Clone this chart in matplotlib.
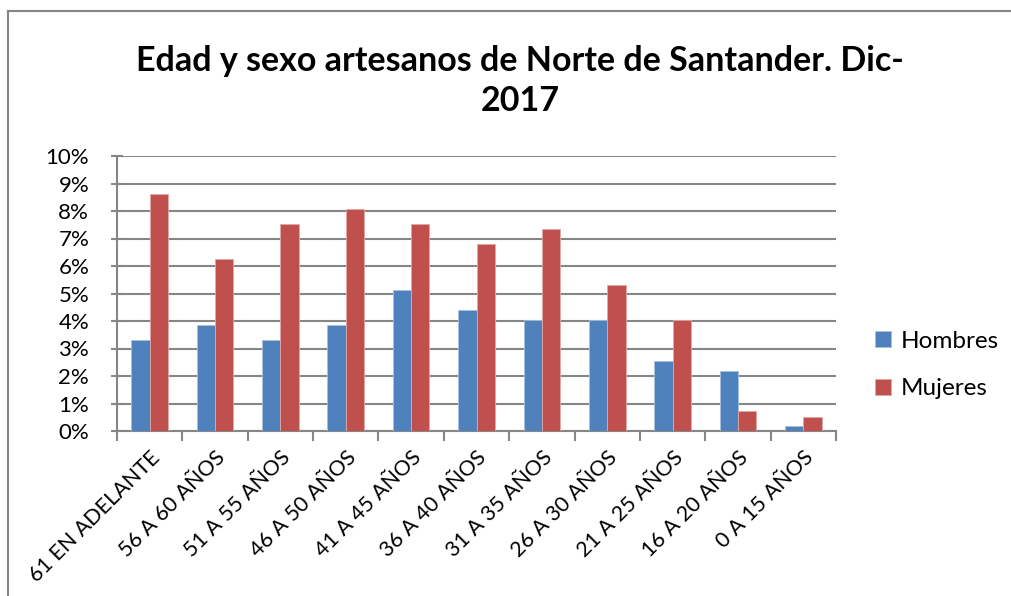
import matplotlib.pyplot as plt
import numpy as np

# data
categorias = ['61 EN ADELANTE', '56 A 60 AÑOS', '51 A 55 AÑOS', '46 A 50 AÑOS',
              '41 A 45 AÑOS', '36 A 40 AÑOS', '31 A 35 AÑOS', '26 A 30 AÑOS',
              '21 A 25 AÑOS', '16 A 20 AÑOS', '0 A 15 AÑOS']
hombres = [3.30, 3.85, 3.30, 3.85, 5.14, 4.39, 4.02, 4.02, 2.55, 2.18, 0.17]
mujeres = [8.63, 6.24, 7.53, 8.08, 7.53, 6.79, 7.35, 5.32, 4.02, 0.72, 0.52]
yticks = list(range(0, 11))

plt.rcParams['font.family'] = ['Lato', 'DejaVu Sans']

azul = '#4F81BD'
rojo = '#C0504D'
gris = '#868686'

fig = plt.figure(figsize=(10.11, 5.96), dpi=100)
ax = fig.add_axes([117/1011, 1-431/596, 719/1011, 275/596])

x = np.arange(len(categorias))
w = 0.28
ax.bar(x - w/2, hombres, w, color=azul, edgecolor='#A7C0DE', linewidth=0.6, label='Hombres', zorder=3)
ax.bar(x + w/2, mujeres, w, color=rojo, edgecolor='#E0A8A6', linewidth=0.6, label='Mujeres', zorder=3)

ax.set_xlim(-0.5, len(categorias) - 0.5)
ax.set_ylim(0, 10)
ax.set_yticks(yticks)
ax.set_yticklabels([f'{t}%' for t in yticks], fontsize=16)
ax.yaxis.grid(True, color=gris, linewidth=1.5, zorder=0)

# ticks between categories
ax.set_xticks(np.arange(-0.5, len(categorias)), minor=False)
ax.set_xticklabels([])
ax.tick_params(axis='x', length=7, width=1.5, color=gris, direction='out')
ax.tick_params(axis='y', length=8, width=1.5, color=gris, direction='inout', pad=16)
ax.set_xticks(x, minor=True)
ax.set_xticklabels(categorias, minor=True, rotation=45, ha='right',
                   rotation_mode='anchor', fontsize=15.5)
ax.tick_params(axis='x', which='minor', length=0, pad=12)

for s in ['top', 'right']:
    ax.spines[s].set_visible(False)
ax.spines['left'].set_color(gris)
ax.spines['bottom'].set_color(gris)
ax.spines['left'].set_linewidth(1.5)
ax.spines['bottom'].set_linewidth(1.5)

fig.suptitle('Edad y sexo artesanos de Norte de Santander. Dic-\n2017',
             x=520/1011, y=1-45/596, fontsize=24.5, fontweight='bold', linespacing=1.3)

fig.legend(loc='center left', bbox_to_anchor=(853/1011, 1-365/596), frameon=False,
           fontsize=17.5, handlelength=0.65, handleheight=0.65, labelspacing=1.1,
           handletextpad=0.4)

# chart area border (only left and top visible in the crop)
fig.add_artist(plt.Line2D([8/1011, 8/1011], [0, 1-11/596], color=gris, linewidth=1.5))
fig.add_artist(plt.Line2D([8/1011, 1], [1-11/596, 1-11/596], color=gris, linewidth=1.5))

fig.savefig('out.png', dpi=100)
